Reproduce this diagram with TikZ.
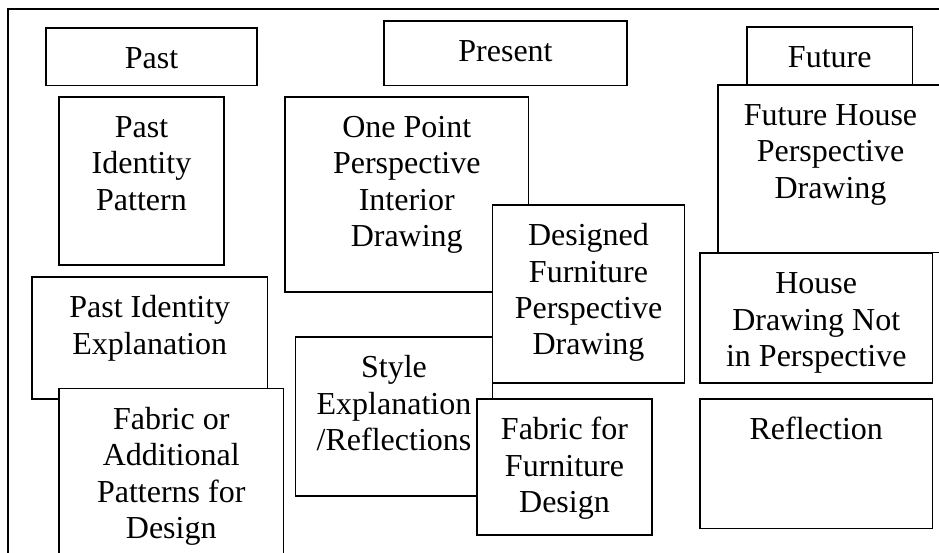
\documentclass[tikz,border=0pt]{standalone}
\usepackage{fontspec}
\setmainfont{Liberation Serif}
\newcommand{\boxtxt}[3]{\parbox[t][#2pt][t]{#1pt}{\centering\rule{0pt}{40.5pt}#3}}
\begin{document}
\begin{tikzpicture}[x=1pt,y=-1pt,
  box/.style={draw, line width=1.9pt, fill=white, inner sep=0pt, outer sep=0pt, anchor=north west,
    font=\fontsize{32}{36.5}\selectfont},
  frame/.style={draw, line width=1.9pt}]
\clip (0,0) rectangle (939,553);
\fill[white] (0,0) rectangle (939,553);
\draw[frame] (8,560) -- (8,9) -- (945,9);
% Past column
\node[box] (past) at (46,28) {\boxtxt{211}{57.5}{Past}};
\node[box] (pip) at (59,97) {\boxtxt{165}{168}{Past\\Identity\\Pattern}};
\node[box] (pie) at (32,277) {\boxtxt{235.5}{122}{Past Identity\\Explanation}};
\node[box] (fab) at (59,388.5) {\boxtxt{224.5}{175}{Fabric or\\Additional\\Patterns for\\Design}};
% Present column
\node[box] (present) at (384,21) {\boxtxt{243}{64.5}{Present}};
\node[box] (opp) at (285,97) {\boxtxt{243.5}{195}{One Point\\Perspective\\Interior\\Drawing}};
\node[box] (style) at (295.5,337) {\boxtxt{197}{159}{Style\\Explanation\\/Reflections}};
\node[box] (dfp) at (492.5,205) {\boxtxt{192}{178}{Designed\\Furniture\\Perspective\\Drawing}};
\node[box] (fff) at (477,399) {\boxtxt{175}{136}{Fabric for\\Furniture\\Design}};
% Future column
\node[box] (future) at (747,27) {\boxtxt{165.5}{58}{Future}};
\node[box] (fhp) at (718,85) {\boxtxt{225}{167.5}{Future House\\Perspective\\Drawing}};
\node[box] (hdn) at (700,253) {\boxtxt{232.5}{130}{House\\Drawing Not\\in Perspective}};
\node[box] (refl) at (700,399) {\boxtxt{232.5}{129.5}{Reflection}};
\end{tikzpicture}
\end{document}
